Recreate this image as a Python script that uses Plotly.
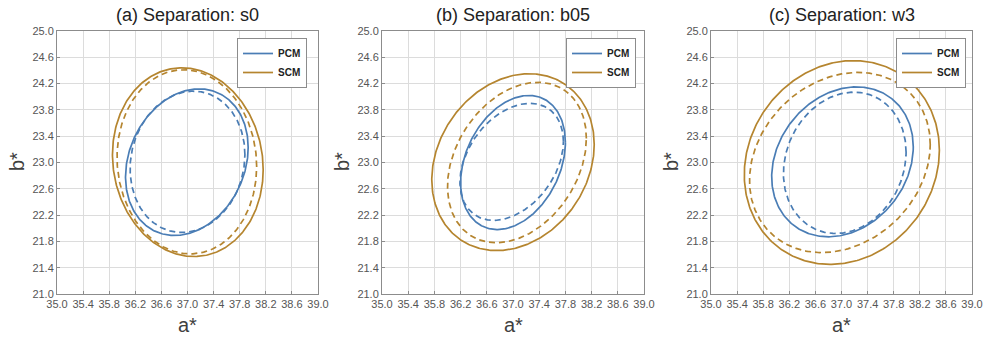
import numpy as np
import plotly.graph_objects as go

# ---- data (ellipse parameters per panel) ----
panel_titles = ["(a) Separation: s0", "(b) Separation: b05", "(c) Separation: w3"]
series_names = ["PCM", "SCM"]

# each entry: [center a*, center b*, half-width a*, half-height b*, correlation]
pcm_solid = [[36.99, 23.005, 0.94, 1.115, 0.20],
             [37.00, 23.000, 0.80, 1.020, 0.30],
             [37.015, 23.010, 1.085, 1.140, 0.20]]
pcm_dashed = [[37.00, 23.010, 0.88, 1.075, 0.10],
              [36.98, 23.010, 0.79, 0.890, 0.35],
              [37.05, 22.995, 0.94, 1.075, 0.15]]
scm_solid = [[37.005, 23.005, 1.155, 1.435, -0.08],
             [37.00, 23.005, 1.24, 1.345, 0.20],
             [37.005, 23.000, 1.495, 1.550, 0.12]]
scm_dashed = [[36.99, 23.010, 1.07, 1.400, -0.05],
              [37.06, 23.000, 1.06, 1.220, 0.30],
              [36.975, 23.000, 1.385, 1.370, 0.20]]

x_ticks = [35.0, 35.4, 35.8, 36.2, 36.6, 37.0, 37.4, 37.8, 38.2, 38.6, 39.0]
y_ticks = [21.0, 21.4, 21.8, 22.2, 22.6, 23.0, 23.4, 23.8, 24.2, 24.6, 25.0]

# ---- styling ----
BLUE = "#4a7db5"
BROWN = "#b5852f"
W, H = 987, 337
x_dom = [(57, 318), (382, 644), (711, 972)]
y_top, y_bot = 31, 294
legend_right = [307, 636, 966]
FONT = "Arial, Liberation Sans, sans-serif"


def ellipse(p, n=361):
    cx, cy, wx, hy, rho = p
    t = np.linspace(0, 2 * np.pi, n)
    x = cx + wx * np.cos(t)
    y = cy + hy * (rho * np.cos(t) + np.sqrt(1 - rho ** 2) * np.sin(t))
    return x, y


fig = go.Figure()
for i in range(3):
    xa = "x" if i == 0 else f"x{i+1}"
    ya = "y" if i == 0 else f"y{i+1}"
    lg = "legend" if i == 0 else f"legend{i+1}"
    for params, color, dash, name, show in [
        (scm_dashed[i], BROWN, "6px,4px", "SCM", False),
        (pcm_dashed[i], BLUE, "6px,4px", "PCM", False),
        (scm_solid[i], BROWN, "solid", "SCM", True),
        (pcm_solid[i], BLUE, "solid", "PCM", True),
    ]:
        x, y = ellipse(params)
        fig.add_trace(go.Scatter(
            x=x, y=y, mode="lines", name=f"<b>{name}</b>",
            line=dict(color=color, width=1.7, dash=dash),
            xaxis=xa, yaxis=ya, legend=lg, showlegend=show,
            legendrank=1 if name == "PCM" else 2,
        ))

layout = dict(
    width=W, height=H, margin=dict(l=0, r=0, t=0, b=0, autoexpand=False),
    paper_bgcolor="white", plot_bgcolor="white",
    font=dict(family=FONT, color="#555555", size=11),
    annotations=[],
)
ydom = [1 - y_bot / H, 1 - y_top / H]
for i in range(3):
    sx = "" if i == 0 else str(i + 1)
    x0, x1 = x_dom[i]
    common = dict(showgrid=True, gridcolor="#dcdcdc", gridwidth=1,
                  showline=True, linecolor="#8c8c8c", linewidth=1, mirror=True,
                  ticks="inside", ticklen=3, tickcolor="#8c8c8c",
                  tickfont=dict(size=11, color="#555555", family=FONT),
                  zeroline=False, automargin=False)
    layout[f"xaxis{sx}"] = dict(domain=[x0 / W, x1 / W], range=[35.0, 39.0],
                                tickvals=x_ticks, ticktext=[f"{v:.1f}" for v in x_ticks],
                                anchor=f"y{sx}", **common)
    layout[f"yaxis{sx}"] = dict(domain=ydom, range=[21.0, 25.0],
                                tickvals=y_ticks, ticktext=[f"{v:.1f}" for v in y_ticks],
                                anchor=f"x{sx}", **common)
    lg = "legend" if i == 0 else f"legend{i+1}"
    layout[lg] = dict(x=legend_right[i] / W, xanchor="right", y=1 - 38 / H, yanchor="top",
                      bgcolor="white", bordercolor="#8c8c8c", borderwidth=1,
                      font=dict(size=10, color="#222222", family=FONT),
                      itemwidth=30, tracegroupgap=0)
    cx = (x0 + x1) / 2
    layout["annotations"] += [
        dict(text=panel_titles[i], x=cx / W, y=1 - 15 / H, xref="paper", yref="paper",
             showarrow=False, font=dict(size=18, color="#222222", family=FONT),
             xanchor="center", yanchor="middle"),
        dict(text="a*", x=cx / W, y=1 - 325 / H, xref="paper", yref="paper",
             showarrow=False, font=dict(size=20, color="#404040", family=FONT),
             xanchor="center", yanchor="middle"),
        dict(text="b*", x=(x0 - 40) / W, y=1 - 162 / H, xref="paper", yref="paper",
             showarrow=False, textangle=-90, font=dict(size=20, color="#404040", family=FONT),
             xanchor="center", yanchor="middle"),
    ]

fig.update_layout(**layout)
fig.write_html(
    "out.html",
    config={"displayModeBar": False},
    post_script="document.body.style.margin='0';document.body.style.overflow='hidden';",
)
